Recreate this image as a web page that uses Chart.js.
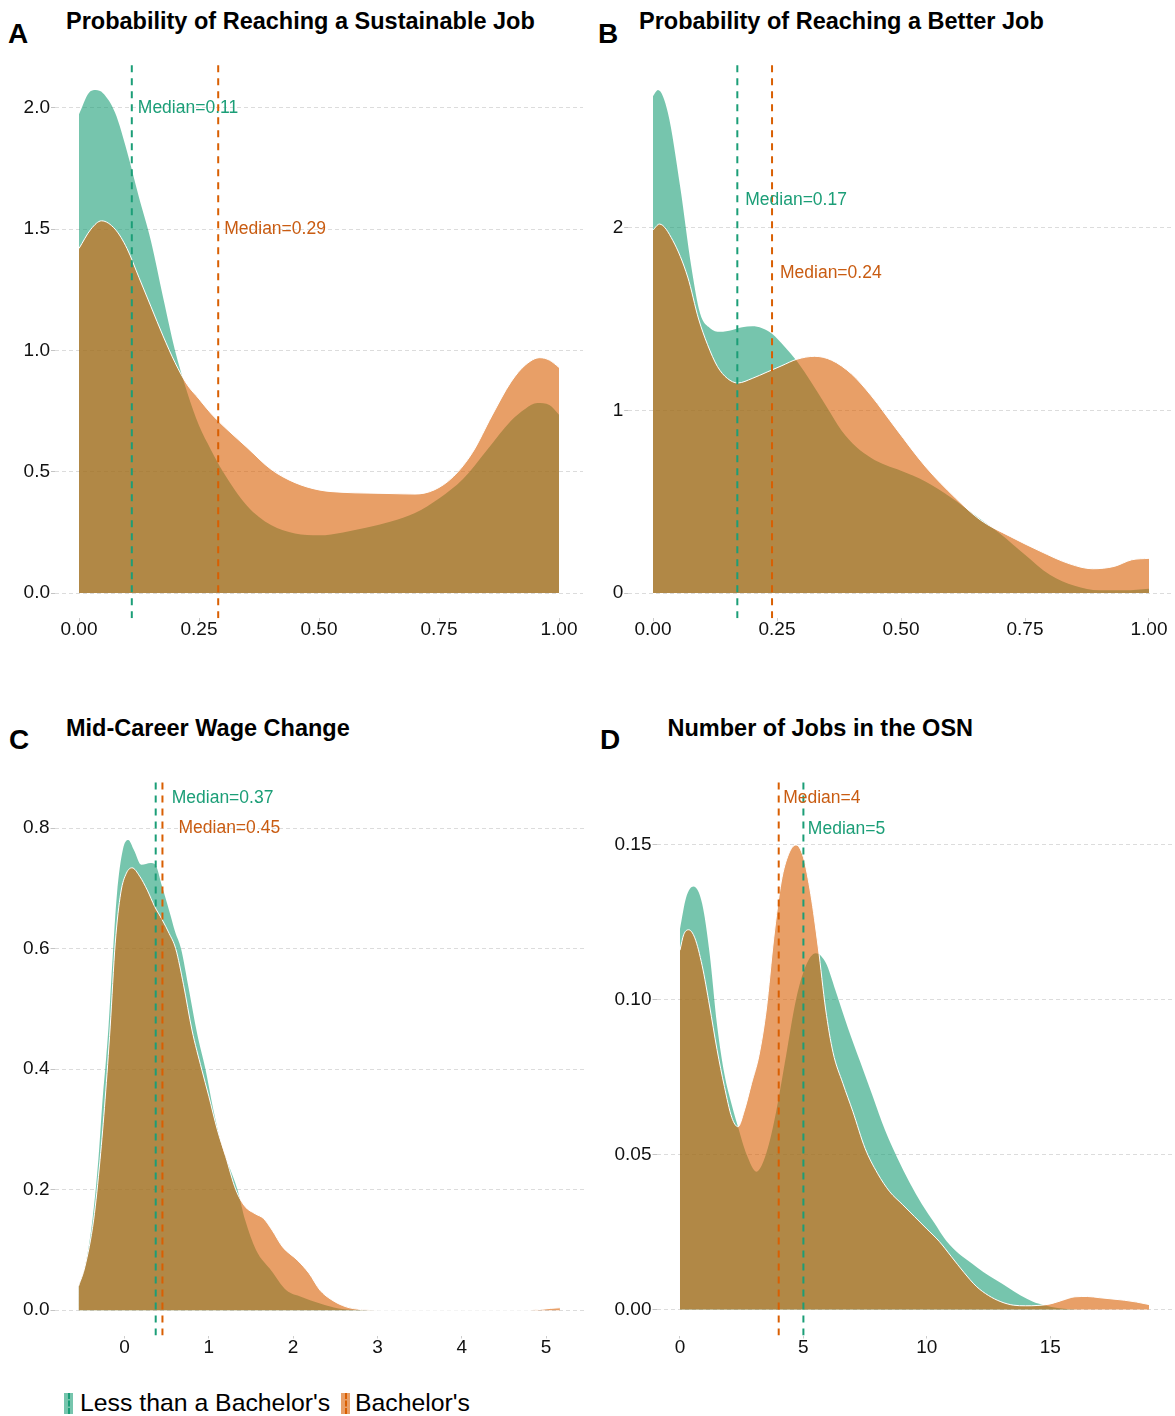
<!DOCTYPE html>
<html>
<head>
<meta charset="utf-8">
<script src="https://cdn.jsdelivr.net/npm/chart.js@4.4.0/dist/chart.umd.min.js"></script>
<style>
  body { margin: 0; background: #fff; width: 1175px; height: 1416px; position: relative; overflow: hidden;
         font-family: "Liberation Sans", Arial, sans-serif; }
  canvas { position: absolute; }
  .tag { position: absolute; font-weight: bold; font-size: 28px; line-height: 28px; color: #000; }
  .title { position: absolute; font-weight: bold; font-size: 23.5px; line-height: 23.5px; color: #000; white-space: nowrap; }
  .key { position: absolute; top: 1393px; width: 9px; height: 21px; }
  .key i { position: absolute; left: 3.5px; top: 0; bottom: 0; border-left: 2px dashed; }
  .legtext { position: absolute; top: 1390.5px; font-size: 24.8px; line-height: 24.8px; color: #000; white-space: nowrap; }
</style>
</head>
<body>
<div class="tag" style="left:8px; top:19.5px">A</div>
<div class="title" style="left:66px; top:10px">Probability of Reaching a Sustainable Job</div>
<div class="tag" style="left:598px; top:19.5px">B</div>
<div class="title" style="left:639px; top:10px">Probability of Reaching a Better Job</div>
<div class="tag" style="left:9px; top:726px">C</div>
<div class="title" style="left:66px; top:716.7px">Mid-Career Wage Change</div>
<div class="tag" style="left:600px; top:726px">D</div>
<div class="title" style="left:667.5px; top:716.7px">Number of Jobs in the OSN</div>

<canvas id="chart-sust"></canvas>
<canvas id="chart-better"></canvas>
<canvas id="chart-wage"></canvas>
<canvas id="chart-jobs"></canvas>

<span class="key" style="left:64px; background:rgba(27,158,119,0.6)"><i style="border-color:#1b9e77"></i></span>
<span class="legtext" id="leg-less" style="left:80px"></span>
<span class="key" style="left:341px; background:rgba(217,95,2,0.6)"><i style="border-color:#d95f02"></i></span>
<span class="legtext" id="leg-ba" style="left:355px"></span>

<script>
// Groups
const groups = ["Less than a Bachelor's", "Bachelor's"];

// A: probability of reaching a sustainable job (density)
const sustLessX = [0, 0.02, 0.035, 0.05, 0.075, 0.1, 0.125, 0.15, 0.175, 0.2, 0.225, 0.25, 0.275, 0.3, 0.35, 0.4, 0.45, 0.5, 0.55, 0.6, 0.65, 0.7, 0.75, 0.8, 0.85, 0.9, 0.93, 0.955, 0.98, 1.0];
const sustLessY = [1.973, 2.06, 2.073, 2.06, 1.98, 1.82, 1.63, 1.45, 1.22, 1.0, 0.83, 0.69, 0.59, 0.50, 0.36, 0.28, 0.245, 0.238, 0.25, 0.27, 0.295, 0.33, 0.39, 0.47, 0.59, 0.71, 0.76, 0.783, 0.775, 0.735];
const sustBaX = [0, 0.025, 0.047, 0.075, 0.1, 0.125, 0.15, 0.175, 0.2, 0.225, 0.25, 0.275, 0.3, 0.35, 0.4, 0.45, 0.5, 0.55, 0.6, 0.65, 0.7, 0.74, 0.78, 0.82, 0.86, 0.9, 0.93, 0.96, 0.98, 1.0];
const sustBaY = [1.42, 1.50, 1.534, 1.50, 1.42, 1.30, 1.18, 1.06, 0.95, 0.86, 0.80, 0.74, 0.69, 0.60, 0.51, 0.455, 0.425, 0.415, 0.412, 0.41, 0.408, 0.425, 0.48, 0.58, 0.73, 0.87, 0.94, 0.97, 0.96, 0.93];
const sustMedians = [0.11, 0.29];
const sustLabelY = [2.0, 1.5];
const sustXTicks = [0, 0.25, 0.5, 0.75, 1];
const sustXLabels = ['0.00', '0.25', '0.50', '0.75', '1.00'];
const sustYTicks = [0, 0.5, 1, 1.5, 2];
const sustYLabels = ['0.0', '0.5', '1.0', '1.5', '2.0'];

// B: probability of reaching a better job
const betterLessX = [0, 0.01, 0.03, 0.055, 0.077, 0.095, 0.115, 0.135, 0.16, 0.18, 0.2, 0.22, 0.24, 0.265, 0.29, 0.32, 0.35, 0.38, 0.41, 0.44, 0.47, 0.5, 0.55, 0.6, 0.65, 0.7, 0.75, 0.8, 0.85, 0.9, 0.95, 1.0];
const betterLessY = [2.72, 2.754, 2.63, 2.22, 1.79, 1.53, 1.45, 1.43, 1.44, 1.455, 1.46, 1.45, 1.42, 1.35, 1.27, 1.15, 1.02, 0.89, 0.80, 0.74, 0.70, 0.67, 0.61, 0.525, 0.425, 0.325, 0.21, 0.10, 0.04, 0.015, 0.015, 0.024];
const betterBaX = [0, 0.013, 0.04, 0.07, 0.092, 0.11, 0.13, 0.15, 0.171, 0.2, 0.23, 0.26, 0.29, 0.326, 0.36, 0.40, 0.44, 0.49, 0.55, 0.61, 0.66, 0.72, 0.78, 0.84, 0.886, 0.93, 0.965, 1.0];
const betterBaY = [1.987, 2.02, 1.93, 1.73, 1.50, 1.36, 1.24, 1.175, 1.15, 1.175, 1.21, 1.245, 1.28, 1.296, 1.275, 1.20, 1.08, 0.90, 0.69, 0.52, 0.40, 0.31, 0.23, 0.16, 0.133, 0.146, 0.182, 0.19];
const betterMedians = [0.17, 0.24];
const betterLabelY = [2.15, 1.75];
const betterXTicks = [0, 0.25, 0.5, 0.75, 1];
const betterXLabels = ['0.00', '0.25', '0.50', '0.75', '1.00'];
const betterYTicks = [0, 1, 2];
const betterYLabels = ['0', '1', '2'];

// C: mid-career wage change
const wageLessX = [-0.545, -0.47, -0.38, -0.31, -0.26, -0.22, -0.19, -0.143, -0.09, -0.02, 0.045, 0.11, 0.2, 0.31, 0.366, 0.446, 0.536, 0.6, 0.67, 0.76, 0.86, 0.96, 1.05, 1.15, 1.25, 1.34, 1.43, 1.56, 1.74, 1.92, 2.1, 2.32, 2.54, 2.8, 3.2, 4.0, 5.165];
const wageLessY = [0.04, 0.072, 0.15, 0.25, 0.35, 0.415, 0.47, 0.58, 0.69, 0.764, 0.78, 0.764, 0.739, 0.742, 0.739, 0.703, 0.66, 0.628, 0.60, 0.535, 0.46, 0.40, 0.335, 0.275, 0.235, 0.20, 0.15, 0.10, 0.066, 0.033, 0.022, 0.011, 0.003, 0.0005, 0, 0, 0];
const wageBaX = [-0.545, -0.47, -0.366, -0.29, -0.23, -0.17, -0.11, -0.045, 0.022, 0.089, 0.18, 0.27, 0.357, 0.446, 0.53, 0.607, 0.7, 0.8, 0.915, 1.0, 1.1, 1.2, 1.32, 1.43, 1.55, 1.65, 1.75, 1.875, 2.05, 2.19, 2.32, 2.46, 2.63, 2.81, 3.0, 4.0, 4.8, 4.95, 5.05, 5.165];
const wageBaY = [0.04, 0.072, 0.15, 0.25, 0.35, 0.47, 0.609, 0.692, 0.725, 0.734, 0.72, 0.697, 0.67, 0.648, 0.625, 0.60, 0.54, 0.465, 0.40, 0.355, 0.30, 0.255, 0.20, 0.172, 0.16, 0.152, 0.133, 0.105, 0.083, 0.061, 0.033, 0.017, 0.0055, 0.001, 0, 0, 0, 0.0015, 0.003, 0.004];
const wageMedians = [0.37, 0.45];
const wageLabelY = [0.85, 0.80];
const wageXTicks = [0, 1, 2, 3, 4, 5];
const wageXLabels = ['0', '1', '2', '3', '4', '5'];
const wageYTicks = [0, 0.2, 0.4, 0.6, 0.8];
const wageYLabels = ['0.0', '0.2', '0.4', '0.6', '0.8'];

// D: number of jobs in the OSN
const jobsLessX = [0, 0.25, 0.55, 0.9, 1.2, 1.5, 1.8, 2.1, 2.35, 2.7, 3.1, 3.5, 3.9, 4.3, 4.7, 5.1, 5.5, 5.9, 6.3, 6.8, 7.3, 7.8, 8.3, 8.8, 9.3, 9.8, 10.3, 10.8, 11.3, 11.8, 12.3, 12.8, 13.3, 13.8, 14.3, 14.8, 15.3, 15.8, 16.5, 17.5, 18.5, 19.0];
const jobsLessY = [0.1228, 0.133, 0.1366, 0.131, 0.115, 0.092, 0.076, 0.066, 0.059, 0.050, 0.0445, 0.0505, 0.064, 0.082, 0.100, 0.111, 0.115, 0.112, 0.103, 0.091, 0.080, 0.069, 0.058, 0.049, 0.041, 0.034, 0.028, 0.022, 0.018, 0.015, 0.012, 0.0095, 0.007, 0.0045, 0.0025, 0.0013, 0.0005, 0.0001, 0, 0, 0, 0];
const jobsBaX = [0, 0.15, 0.35, 0.6, 0.9, 1.2, 1.5, 1.8, 2.1, 2.35, 2.6, 2.9, 3.2, 3.5, 3.8, 4.1, 4.4, 4.7, 5.0, 5.3, 5.6, 5.9, 6.2, 6.6, 7.0, 7.5, 8.0, 8.5, 9.0, 9.5, 10.0, 10.5, 11.0, 11.5, 12.0, 12.5, 13.0, 13.5, 14.0, 14.5, 15.0, 15.5, 16.0, 16.5, 17.0, 17.5, 18.0, 18.5, 19.0];
const jobsBaY = [0.116, 0.121, 0.1226, 0.12, 0.111, 0.098, 0.084, 0.072, 0.062, 0.059, 0.064, 0.073, 0.082, 0.097, 0.12, 0.138, 0.147, 0.150, 0.146, 0.134, 0.117, 0.097, 0.083, 0.073, 0.064, 0.052, 0.044, 0.038, 0.034, 0.030, 0.026, 0.022, 0.017, 0.012, 0.0075, 0.0045, 0.0025, 0.0014, 0.0012, 0.0013, 0.0018, 0.003, 0.0041, 0.0042, 0.0038, 0.0034, 0.003, 0.0024, 0.0016];
const jobsMedians = [5, 4];
const jobsLabelY = [0.155, 0.165];
const jobsXTicks = [0, 5, 10, 15];
const jobsXLabels = ['0', '5', '10', '15'];
const jobsYTicks = [0, 0.05, 0.1, 0.15];
const jobsYLabels = ['0.00', '0.05', '0.10', '0.15'];

const GREEN = '#1b9e77';
const ORANGE = '#d95f02';
const GREEN_FILL = 'rgba(27,158,119,0.6)';
const ORANGE_FILL = 'rgba(217,95,2,0.6)';
const GREEN_TEXT = '#1b9e77';
const ORANGE_TEXT = '#c95c12';
const FONT = '"Liberation Sans", Arial, sans-serif';

document.getElementById('leg-less').textContent = groups[0];
document.getElementById('leg-ba').textContent = groups[1];

// "Median=..." text next to each dashed line
const medianLabels = {
    id: 'medianLabels',
    afterDatasetsDraw(chart, args, opts) {
        const { ctx, scales: { x, y } } = chart;
        ctx.save();
        ctx.font = '17.5px ' + FONT;
        ctx.textAlign = 'left';
        ctx.textBaseline = 'middle';
        opts.items.forEach(item => {
            ctx.fillStyle = item.color;
            ctx.fillText(item.text, x.getPixelForValue(item.x), y.getPixelForValue(item.y));
        });
        ctx.restore();
    }
};

const toPoints = (xs, ys) => xs.map((x, i) => ({ x: x, y: ys[i] }));

const makePanel = (id, p) => {
    const canvas = document.getElementById(id);
    canvas.width = p.box.width;
    canvas.height = p.box.height;
    canvas.style.left = p.box.left + 'px';
    canvas.style.top = p.box.top + 'px';

    const yAxisW = p.area.l - p.box.left;
    const xAxisH = p.box.top + p.box.height - p.area.b;

    const vline = (x, color) => ({
        data: [{ x: x, y: p.yRange[0] }, { x: x, y: p.yRange[1] }],
        borderColor: color, borderWidth: 2, borderDash: [7, 6],
        pointRadius: 0, fill: false, order: 0
    });

    new Chart(canvas.getContext('2d'), {
        type: 'line',
        data: {
            datasets: [
                vline(p.medians[0], GREEN),
                vline(p.medians[1], ORANGE),
                {
                    label: groups[1], data: toPoints(p.baX, p.baY),
                    backgroundColor: ORANGE_FILL, borderColor: '#ffffff', borderWidth: 1,
                    fill: 'origin', cubicInterpolationMode: 'monotone', pointRadius: 0, order: 1
                },
                {
                    label: groups[0], data: toPoints(p.lessX, p.lessY),
                    backgroundColor: GREEN_FILL, borderColor: 'rgba(255,255,255,0)', borderWidth: 0,
                    fill: 'origin', cubicInterpolationMode: 'monotone', pointRadius: 0, order: 2
                }
            ]
        },
        options: {
            responsive: false,
            animation: false,
            devicePixelRatio: 1,
            layout: {
                padding: {
                    left: 0, bottom: 0,
                    top: p.area.t - p.box.top,
                    right: p.box.left + p.box.width - p.area.r
                }
            },
            plugins: {
                legend: { display: false },
                tooltip: { enabled: false },
                medianLabels: {
                    items: [
                        { text: 'Median=' + p.medians[0], x: p.medians[0] + p.labelDx, y: p.labelY[0], color: GREEN_TEXT },
                        { text: 'Median=' + p.medians[1], x: p.medians[1] + p.labelDx, y: p.labelY[1], color: ORANGE_TEXT }
                    ]
                }
            },
            scales: {
                x: {
                    type: 'linear', min: p.xRange[0], max: p.xRange[1],
                    afterBuildTicks: s => { s.ticks = p.xTicks.map(v => ({ value: v })); },
                    afterFit: s => { s.height = xAxisH; },
                    ticks: {
                        callback: (v, i) => p.xLabels[i],
                        font: { family: FONT, size: 19, lineHeight: 1 },
                        color: '#111111', padding: -0.5, maxRotation: 0, autoSkip: false
                    },
                    grid: { drawOnChartArea: false, drawTicks: true, tickLength: 3, tickColor: '#cccccc' },
                    border: { display: false }
                },
                y: {
                    type: 'linear', min: p.yRange[0], max: p.yRange[1],
                    afterBuildTicks: s => { s.ticks = p.yTicks.map(v => ({ value: v })); },
                    afterFit: s => { s.width = yAxisW; },
                    ticks: {
                        callback: (v, i) => p.yLabels[i],
                        font: { family: FONT, size: 19, lineHeight: 1 },
                        color: '#111111', padding: 1
                    },
                    grid: { color: '#dcdcdc', lineWidth: 1, tickLength: 4, tickColor: '#c4c4c4' },
                    border: { display: false, dash: [4, 3] }
                }
            }
        },
        plugins: [medianLabels]
    });
};

makePanel('chart-sust', {
    box: { left: 0, top: 40, width: 590, height: 610 },
    area: { l: 55, t: 64.8, r: 583, b: 618.2 },
    xRange: [-0.05, 1.05], yRange: [-0.1037, 2.177],
    lessX: sustLessX, lessY: sustLessY, baX: sustBaX, baY: sustBaY,
    medians: sustMedians, labelY: sustLabelY, labelDx: 0.0125,
    xTicks: sustXTicks, xLabels: sustXLabels, yTicks: sustYTicks, yLabels: sustYLabels
});

makePanel('chart-better', {
    box: { left: 590, top: 40, width: 585, height: 610 },
    area: { l: 628.2, t: 64.8, r: 1173.8, b: 618.2 },
    xRange: [-0.05, 1.05], yRange: [-0.1377, 2.892],
    lessX: betterLessX, lessY: betterLessY, baX: betterBaX, baY: betterBaY,
    medians: betterMedians, labelY: betterLabelY, labelDx: 0.016,
    xTicks: betterXTicks, xLabels: betterXLabels, yTicks: betterYTicks, yLabels: betterYLabels
});

makePanel('chart-wage', {
    box: { left: 0, top: 750, width: 590, height: 620 },
    area: { l: 54.5, t: 778, r: 584, b: 1335.5 },
    xRange: [-0.8305, 5.4505], yRange: [-0.042, 0.883],
    lessX: wageLessX, lessY: wageLessY, baX: wageBaX, baY: wageBaY,
    medians: wageMedians, labelY: wageLabelY, labelDx: 0.19,
    xTicks: wageXTicks, xLabels: wageXLabels, yTicks: wageYTicks, yLabels: wageYLabels
});

makePanel('chart-jobs', {
    box: { left: 590, top: 750, width: 585, height: 620 },
    area: { l: 656.5, t: 778, r: 1172.5, b: 1335.5 },
    xRange: [-0.95, 19.95], yRange: [-0.0084, 0.1716],
    lessX: jobsLessX, lessY: jobsLessY, baX: jobsBaX, baY: jobsBaY,
    medians: jobsMedians, labelY: jobsLabelY, labelDx: 0.18,
    xTicks: jobsXTicks, xLabels: jobsXLabels, yTicks: jobsYTicks, yLabels: jobsYLabels
});
</script>
</body>
</html>
